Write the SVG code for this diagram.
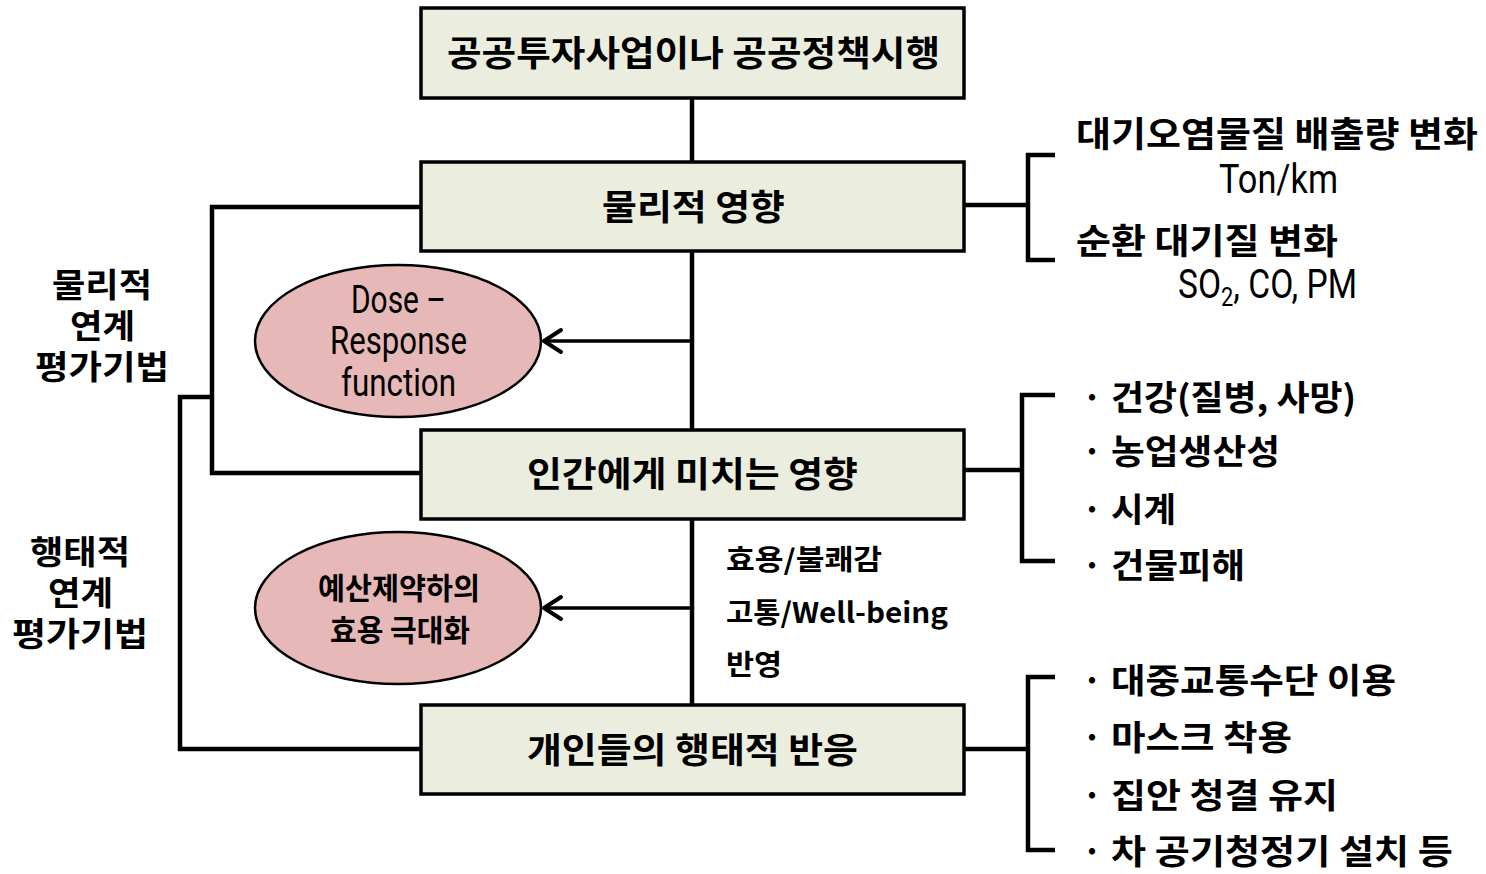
<svg xmlns="http://www.w3.org/2000/svg" width="1486" height="874" viewBox="0 0 1486 874">
<style>
.box{fill:#EBEEDE;stroke:#000;stroke-width:3.5}
.ell{fill:#E6B8B7;stroke:#000;stroke-width:2.5}
.ln{fill:none;stroke:#000;stroke-width:4.5}
.arr{fill:none;stroke:#000;stroke-width:3.5}
.kr{font-family:"Noto Sans CJK KR","Noto Sans",sans-serif;font-weight:bold;fill:#000}
.lat{font-family:"Liberation Sans Narrow","Roboto","Liberation Sans",sans-serif;fill:#000}
.c{text-anchor:middle}
</style>
<defs>
<marker id="chev" viewBox="0 0 24 28" markerWidth="24" markerHeight="28" refX="21" refY="14" orient="auto" markerUnits="userSpaceOnUse">
<path d="M3,3 L20,14 L3,25" fill="none" stroke="#000" stroke-width="4" stroke-linecap="round" stroke-linejoin="round"/>
</marker>
</defs>
<rect width="1486" height="874" fill="#fff"/>
<g id="connectors">
<line class="ln" x1="692" y1="99" x2="692" y2="161"/>
<line class="ln" x1="692" y1="252" x2="692" y2="429"/>
<line class="ln" x1="692" y1="520" x2="692" y2="704"/>
<line class="arr" x1="690" y1="341" x2="543" y2="341" marker-end="url(#chev)"/>
<line class="arr" x1="690" y1="608" x2="543" y2="608" marker-end="url(#chev)"/>
<polyline class="ln" points="420,207 212,207 212,473 420,473"/>
<polyline class="ln" points="212,397 180,397 180,749 420,749"/>
<line class="ln" x1="965" y1="205" x2="1028" y2="205"/>
<polyline class="ln" points="1055,155 1028,155 1028,260 1055,260"/>
<line class="ln" x1="965" y1="470" x2="1022" y2="470"/>
<polyline class="ln" points="1055,395 1022,395 1022,561 1055,561"/>
<line class="ln" x1="965" y1="749" x2="1028" y2="749"/>
<polyline class="ln" points="1055,677 1028,677 1028,850 1055,850"/>
</g>
<g id="box1">
<rect class="box" x="421" y="8" width="543" height="90"/>
<text class="kr" x="447" y="66" font-size="35" textLength="493" lengthAdjust="spacingAndGlyphs">공공투자사업이나 공공정책시행</text>
</g>
<g id="box2">
<rect class="box" x="421" y="162" width="543" height="89"/>
<text class="kr" x="602" y="220" font-size="35" textLength="183" lengthAdjust="spacingAndGlyphs">물리적 영향</text>
</g>
<g id="box3">
<rect class="box" x="421" y="430" width="543" height="89"/>
<text class="kr" x="527" y="487" font-size="35" textLength="331" lengthAdjust="spacingAndGlyphs">인간에게 미치는 영향</text>
</g>
<g id="box4">
<rect class="box" x="421" y="705" width="543" height="89"/>
<text class="kr" x="527" y="763" font-size="35" textLength="331" lengthAdjust="spacingAndGlyphs">개인들의 행태적 반응</text>
</g>
<g id="ellipse1">
<ellipse class="ell" cx="398" cy="341" rx="143" ry="76"/>
<text class="lat" x="351" y="313" font-size="38" textLength="95" lengthAdjust="spacingAndGlyphs">Dose –</text>
<text class="lat" x="330" y="354" font-size="38" textLength="137" lengthAdjust="spacingAndGlyphs">Response</text>
<text class="lat" x="341" y="396" font-size="38" textLength="115" lengthAdjust="spacingAndGlyphs">function</text>
</g>
<g id="ellipse2">
<ellipse class="ell" cx="398" cy="608" rx="143" ry="76"/>
<text class="kr" x="318" y="599" font-size="30" textLength="162" lengthAdjust="spacingAndGlyphs">예산제약하의</text>
<text class="kr" x="330" y="641" font-size="30" textLength="140" lengthAdjust="spacingAndGlyphs">효용 극대화</text>
</g>
<g id="label-physical">
<text class="kr" x="52" y="297" font-size="33" textLength="100" lengthAdjust="spacingAndGlyphs">물리적</text>
<text class="kr" x="70" y="338" font-size="33" textLength="65" lengthAdjust="spacingAndGlyphs">연계</text>
<text class="kr" x="35" y="379" font-size="33" textLength="134" lengthAdjust="spacingAndGlyphs">평가기법</text>
</g>
<g id="label-behavioral">
<text class="kr" x="30" y="564" font-size="33" textLength="100" lengthAdjust="spacingAndGlyphs">행태적</text>
<text class="kr" x="48" y="605" font-size="33" textLength="65" lengthAdjust="spacingAndGlyphs">연계</text>
<text class="kr" x="12" y="646" font-size="33" textLength="136" lengthAdjust="spacingAndGlyphs">평가기법</text>
</g>
<g id="label-utility">
<text class="kr" x="726" y="570" font-size="28" textLength="156" lengthAdjust="spacingAndGlyphs">효용/불쾌감</text>
<text class="kr" x="726" y="623" font-size="28" textLength="222" lengthAdjust="spacingAndGlyphs">고통/Well-being</text>
<text class="kr" x="726" y="675" font-size="28" textLength="56" lengthAdjust="spacingAndGlyphs">반영</text>
</g>
<g id="physical-list">
<text class="kr" x="1076" y="147" font-size="35" textLength="402" lengthAdjust="spacingAndGlyphs">대기오염물질 배출량 변화</text>
<text class="lat" x="1219" y="193" font-size="40" textLength="119" lengthAdjust="spacingAndGlyphs">Ton/km</text>
<text class="kr" x="1076" y="254" font-size="35" textLength="262" lengthAdjust="spacingAndGlyphs">순환 대기질 변화</text>
<text class="lat" transform="translate(1178,298) scale(0.84,1)" x="0" y="0" font-size="40">SO<tspan font-size="26" dy="8">2</tspan><tspan dy="-8">, CO, PM</tspan></text>
</g>
<g id="human-list">
<text class="kr" font-size="34" y="410"><tspan x="1082">·</tspan><tspan x="1111" textLength="245" lengthAdjust="spacingAndGlyphs">건강(질병, 사망)</tspan></text>
<text class="kr" font-size="34" y="464"><tspan x="1082">·</tspan><tspan x="1111" textLength="169" lengthAdjust="spacingAndGlyphs">농업생산성</tspan></text>
<text class="kr" font-size="34" y="522"><tspan x="1082">·</tspan><tspan x="1111" textLength="65" lengthAdjust="spacingAndGlyphs">시계</tspan></text>
<text class="kr" font-size="34" y="578"><tspan x="1082">·</tspan><tspan x="1111" textLength="134" lengthAdjust="spacingAndGlyphs">건물피해</tspan></text>
</g>
<g id="behavior-list">
<text class="kr" font-size="34" y="693"><tspan x="1082">·</tspan><tspan x="1111" textLength="285" lengthAdjust="spacingAndGlyphs">대중교통수단 이용</tspan></text>
<text class="kr" font-size="34" y="750"><tspan x="1082">·</tspan><tspan x="1111" textLength="181" lengthAdjust="spacingAndGlyphs">마스크 착용</tspan></text>
<text class="kr" font-size="34" y="808"><tspan x="1082">·</tspan><tspan x="1111" textLength="227" lengthAdjust="spacingAndGlyphs">집안 청결 유지</tspan></text>
<text class="kr" font-size="34" y="864"><tspan x="1082">·</tspan><tspan x="1111" textLength="342" lengthAdjust="spacingAndGlyphs">차 공기청정기 설치 등</tspan></text>
</g>
</svg>
